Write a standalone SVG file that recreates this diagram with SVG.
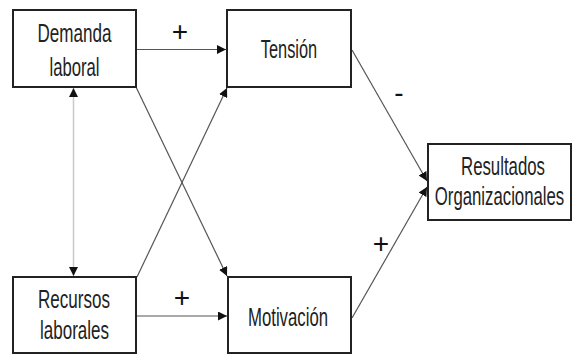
<svg xmlns="http://www.w3.org/2000/svg" width="574" height="354" viewBox="0 0 574 354">
<defs>
<style>
.box{fill:#fff;stroke:#222;stroke-width:2}
.t{font-family:"Liberation Sans",Arial,sans-serif;font-size:25px;fill:#222;text-anchor:middle}
.c{fill:none;stroke:#555;stroke-width:1.2}
.cl{fill:none;stroke:#c8c8c8;stroke-width:1.5}
.s{font-family:"Liberation Sans",Arial,sans-serif;font-size:28px;fill:#111;text-anchor:middle}
</style>
<marker id="ah" viewBox="0 0 10 10" refX="10" refY="5" markerWidth="9" markerHeight="9" markerUnits="userSpaceOnUse" orient="auto-start-reverse">
<path d="M0,0 L10,5 L0,10 z" fill="#111"/>
</marker>
</defs>
<rect width="574" height="354" fill="#fff"/>
<g id="connectors">
<line class="c" x1="137" y1="49.5" x2="226" y2="49.5" marker-end="url(#ah)"/>
<line class="c" x1="137" y1="316" x2="227" y2="316" marker-end="url(#ah)"/>
<line class="cl" x1="73.5" y1="88" x2="73.5" y2="276" marker-start="url(#ah)" marker-end="url(#ah)"/>
<line class="c" x1="136" y1="87" x2="227" y2="276" marker-end="url(#ah)"/>
<line class="c" x1="137" y1="277" x2="227" y2="88" marker-end="url(#ah)"/>
<line class="c" x1="352" y1="50" x2="427" y2="181" marker-end="url(#ah)"/>
<line class="c" x1="352" y1="318" x2="427" y2="187" marker-end="url(#ah)"/>
<text class="s" x="180" y="41">+</text>
<text class="s" x="182" y="307">+</text>
<text class="s" x="399" y="102">-</text>
<text class="s" x="381" y="253">+</text>
</g>
<g id="demanda">
<rect class="box" x="13" y="10" width="123" height="77"/>
<text class="t" transform="translate(74.5,0) scale(0.683,1)" x="0" y="42">Demanda</text>
<text class="t" transform="translate(74.5,0) scale(0.667,1)" x="0" y="76">laboral</text>
</g>
<g id="tension">
<rect class="box" x="227" y="10" width="124" height="77"/>
<text class="t" transform="translate(289,0) scale(0.655,1)" x="0" y="58">Tensión</text>
</g>
<g id="resultados">
<rect class="box" x="428" y="144" width="143" height="76"/>
<text class="t" transform="translate(503,0) scale(0.672,1)" x="0" y="175">Resultados</text>
<text class="t" transform="translate(499.5,0) scale(0.671,1)" x="0" y="205">Organizacionales</text>
</g>
<g id="recursos">
<rect class="box" x="13" y="277" width="123" height="76"/>
<text class="t" transform="translate(74,0) scale(0.682,1)" x="0" y="308">Recursos</text>
<text class="t" transform="translate(74.5,0) scale(0.68,1)" x="0" y="339">laborales</text>
</g>
<g id="motivacion">
<rect class="box" x="228" y="277" width="123" height="76"/>
<text class="t" transform="translate(288,0) scale(0.67,1)" x="0" y="326">Motivación</text>
</g>
</svg>
